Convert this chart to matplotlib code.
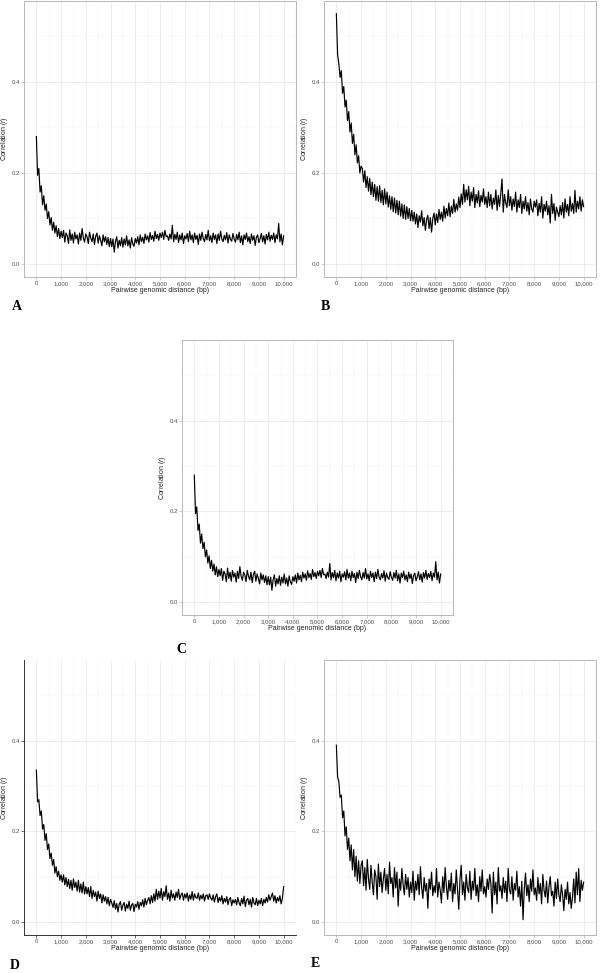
# Decay of correlation with pairwise genomic distance, five panels (A-E).
# Values are read off the reference figure, in thousandths of r,
# one value every 50 bp from 0 to 10,000 bp.

import matplotlib
matplotlib.use("Agg")
import matplotlib.pyplot as plt
from matplotlib.ticker import MultipleLocator

distance = list(range(0, 10001, 50))

x_ticks = [0, 1000, 2000, 3000, 4000, 5000, 6000, 7000, 8000, 9000, 10000]
x_tick_labels = ["0", "1,000", "2,000", "3,000", "4,000", "5,000",
                 "6,000", "7,000", "8,000", "9,000", "10,000"]
y_ticks = [0.0, 0.2, 0.4]
y_tick_labels = ["0.0", "0.2", "0.4"]

corr_A = [280, 195, 210, 158, 172, 130, 150, 118, 132, 100, 115, 86, 102, 74, 92, 68, 84, 60, 78, 56, 72,
          58, 74, 48, 68, 62, 45, 75, 52, 66, 46, 70, 55, 64, 44, 68, 52, 78, 57, 48, 66,
          60, 45, 70, 57, 49, 66, 43, 61, 68, 46, 62, 52, 40, 64, 49, 60, 43, 58, 38, 56,
          38, 55, 26, 50, 60, 35, 52, 40, 58, 37, 55, 42, 62, 40, 53, 35, 58, 44, 39, 56,
          46, 60, 42, 64, 49, 59, 45, 66, 53, 62, 48, 69, 54, 63, 50, 72, 56, 65, 52, 68,
          58, 70, 54, 74, 60, 62, 52, 66, 55, 85, 49, 65, 54, 70, 47, 64, 53, 68, 45, 62,
          55, 67, 49, 72, 53, 64, 47, 68, 54, 63, 43, 66, 52, 70, 56, 49, 65, 53, 74, 51,
          62, 47, 68, 54, 64, 45, 66, 52, 72, 55, 49, 63, 53, 69, 46, 64, 54, 50, 67, 55,
          48, 65, 53, 70, 47, 62, 42, 64, 54, 68, 49, 60, 45, 66, 52, 62, 41, 59, 64, 47,
          56, 67, 49, 62, 44, 65, 53, 70, 50, 63, 54, 68, 47, 64, 55, 89, 49, 66, 42, 62]

corr_B = [550, 460, 440, 410, 425, 375, 390, 345, 360, 315, 335, 290, 310, 265, 285, 240, 262, 222, 238, 200, 215,
          210, 180, 205, 168, 192, 160, 188, 152, 180, 148, 175, 140, 170, 138, 172, 135, 162, 130, 165, 132,
          158, 125, 150, 120, 148, 115, 145, 112, 140, 108, 138, 105, 132, 100, 130, 98, 126, 100, 122, 95,
          118, 94, 114, 88, 110, 80, 106, 92, 117, 84, 102, 74, 98, 107, 78, 102, 70, 100, 112, 86,
          110, 91, 120, 98, 114, 94, 127, 101, 122, 106, 134, 104, 127, 111, 142, 114, 132, 118, 147, 124,
          154, 131, 175, 136, 163, 141, 171, 128, 158, 138, 168, 124, 153, 134, 161, 126, 151, 136, 165, 131,
          148, 124, 158, 128, 153, 121, 145, 131, 163, 118, 151, 126, 155, 187, 114, 153, 134, 124, 163, 128,
          148, 118, 143, 126, 158, 114, 141, 124, 153, 111, 138, 121, 148, 116, 135, 108, 143, 121, 114, 138,
          125, 141, 106, 133, 114, 148, 101, 131, 116, 138, 108, 128, 90, 153, 111, 133, 96, 125, 114, 104,
          128, 108, 135, 101, 143, 114, 131, 106, 148, 116, 133, 111, 162, 114, 138, 121, 148, 116, 141, 126]

# panel C looks the same as panel A in the figure
corr_C = list(corr_A)

corr_D = [335, 265, 270, 235, 245, 205, 215, 180, 195, 160, 172, 140, 152, 125, 138, 108, 122, 100, 112, 92, 104,
          88, 104, 82, 98, 78, 94, 74, 92, 70, 95, 76, 88, 68, 92, 66, 84, 64, 88, 62, 78,
          62, 76, 56, 78, 52, 70, 56, 66, 46, 68, 52, 62, 42, 60, 46, 56, 40, 54, 36, 50,
          42, 32, 47, 28, 41, 22, 39, 45, 26, 37, 43, 24, 39, 30, 46, 26, 37, 41, 23, 39,
          33, 45, 28, 43, 36, 49, 33, 52, 38, 48, 54, 40, 58, 43, 62, 46, 72, 50, 68, 53,
          74, 48, 67, 56, 80, 50, 64, 46, 70, 53, 62, 48, 66, 54, 72, 50, 60, 64, 48, 62,
          53, 64, 46, 60, 50, 67, 48, 62, 54, 52, 64, 48, 59, 51, 62, 46, 58, 60, 50, 62,
          53, 48, 60, 44, 56, 62, 43, 54, 46, 58, 40, 52, 44, 56, 38, 50, 54, 36, 49, 42,
          50, 38, 54, 42, 36, 52, 40, 57, 34, 48, 52, 38, 50, 33, 54, 42, 38, 52, 36, 48,
          40, 52, 36, 50, 42, 54, 44, 60, 48, 56, 64, 46, 58, 42, 54, 46, 58, 40, 52, 78]

corr_E = [390, 320, 310, 275, 280, 230, 245, 190, 210, 160, 185, 135, 170, 115, 160, 100, 145, 90, 135, 85, 125,
          135, 80, 120, 70, 138, 95, 72, 125, 88, 60, 115, 100, 50, 128, 78, 110, 65, 95, 118, 70,
          105, 62, 132, 85, 98, 55, 120, 75, 110, 35, 95, 70, 118, 82, 60, 105, 72, 98, 55, 88,
          65, 112, 48, 90, 70, 105, 60, 122, 75, 52, 98, 68, 85, 30, 95, 72, 110, 58, 80, 65,
          118, 55, 88, 70, 42, 100, 65, 120, 78, 50, 92, 68, 108, 45, 85, 62, 115, 72, 28, 95,
          125, 60, 88, 48, 105, 75, 65, 112, 50, 90, 70, 118, 58, 82, 45, 100, 68, 115, 62, 78,
          55, 95, 72, 105, 85, 20, 110, 60, 88, 40, 120, 68, 80, 52, 98, 65, 90, 45, 118, 70,
          62, 100, 48, 85, 70, 112, 55, 78, 35, 90, 5, 72, 108, 58, 82, 45, 95, 68, 115, 60,
          75, 48, 98, 62, 85, 40, 105, 70, 55, 90, 42, 78, 100, 58, 68, 35, 88, 52, 95, 60,
          45, 82, 60, 25, 72, 50, 88, 40, 65, 30, 55, 95, 42, 110, 60, 118, 45, 92, 70, 88]

plt.rcParams['font.family'] = ['Liberation Sans', 'DejaVu Sans']
plt.rcParams['mathtext.fontset'] = 'custom'
plt.rcParams['mathtext.rm'] = 'Liberation Sans'
plt.rcParams['mathtext.it'] = 'Liberation Sans:italic'


def draw_panel(fig, rect, values, letter, letter_xy, classic=False):
    ax = fig.add_axes(rect)
    ax.plot(distance, [v / 1000 for v in values], color='black', linewidth=0.85)

    ax.set_xlim(-500, 10500)
    ax.set_ylim(-0.0286, 0.578)
    ax.set_xticks(x_ticks)
    ax.set_xticklabels(x_tick_labels)
    ax.set_yticks(y_ticks)
    ax.set_yticklabels(y_tick_labels)
    ax.xaxis.set_minor_locator(MultipleLocator(500))
    ax.yaxis.set_minor_locator(MultipleLocator(0.1))

    # faint ggplot-like grid
    ax.grid(which='major', color='#e6e6e6', linewidth=0.5)
    ax.grid(which='minor', color='#f2f2f2', linewidth=0.3)
    ax.set_axisbelow(True)

    if classic:
        edge = '#333333'
        ax.spines['top'].set_visible(False)
        ax.spines['right'].set_visible(False)
    else:
        edge = '#b8b8b8'
    for side in ax.spines:
        ax.spines[side].set_color(edge)
        ax.spines[side].set_linewidth(0.7)

    ax.tick_params(which='minor', length=0)
    ax.tick_params(which='major', length=2, width=0.5, color=edge,
                   labelsize=4.3, labelcolor='#4d4d4d', pad=1)
    ax.set_xlabel("Pairwise genomic distance (bp)", fontsize=5, color='#222222')
    ax.set_ylabel("Correlation ($r$)", fontsize=5, color='#222222')
    ax.xaxis.set_label_coords(0.5, -0.036)
    ax.yaxis.set_label_coords(-0.052, 0.5)

    fig.text(letter_xy[0], letter_xy[1], letter, family='Liberation Serif',
             weight='bold', fontsize=10, ha='center', va='center')
    return ax


fig = plt.figure(figsize=(6, 9.73), dpi=100)

draw_panel(fig, [0.040, 0.7153, 0.4533, 0.2837], corr_A, "A", (0.028, 0.6845))
draw_panel(fig, [0.540, 0.7153, 0.4533, 0.2837], corr_B, "B", (0.543, 0.6845))
draw_panel(fig, [0.3033, 0.3679, 0.4517, 0.2826], corr_C, "C", (0.303, 0.3320))
draw_panel(fig, [0.040, 0.0391, 0.4533, 0.2826], corr_D, "D", (0.025, 0.0075), classic=True)
draw_panel(fig, [0.540, 0.0391, 0.4533, 0.2826], corr_E, "E", (0.525, 0.0100))

plt.savefig("out.png", dpi=100)
